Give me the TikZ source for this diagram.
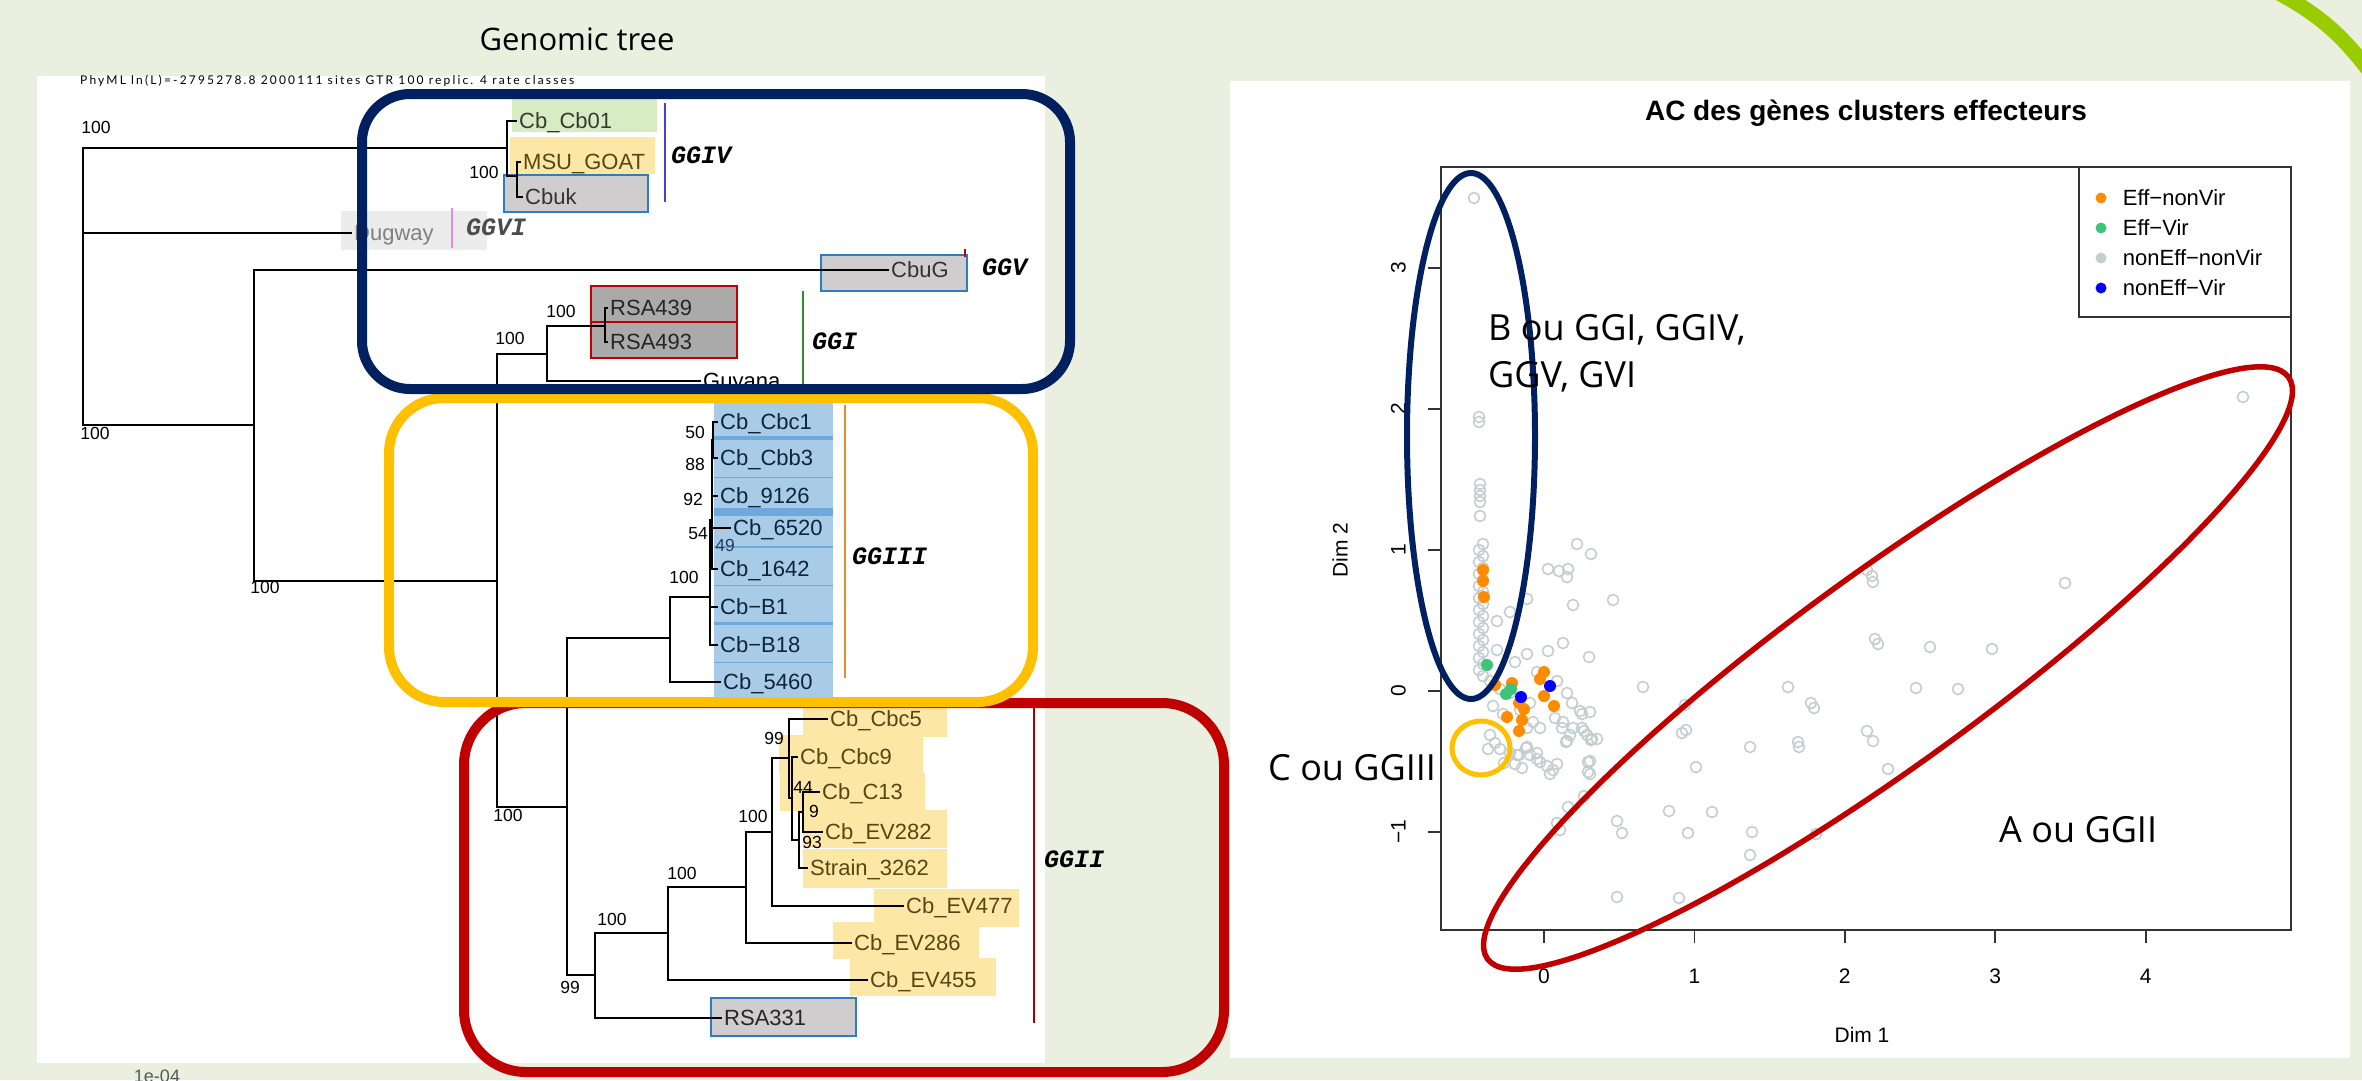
\documentclass[tikz,border=0pt]{standalone}
\usepackage{fontspec}
\newfontfamily\treefont{Liberation Sans}
\newfontfamily\notefont{Open Sans}
\newfontfamily\cladefont{Liberation Mono}
\newfontfamily\headfont[LetterSpace=18]{Lato}
\usetikzlibrary{positioning}

\definecolor{bgpage}{RGB}{234,239,223}
\definecolor{swoosh}{RGB}{153,204,0}
\definecolor{navybox}{RGB}{0,32,96}
\definecolor{goldbox}{RGB}{255,192,0}
\definecolor{redbox}{RGB}{192,0,0}
\definecolor{hlgreen}{RGB}{216,236,196}
\definecolor{hlyellow}{RGB}{253,231,166}
\definecolor{hlgray}{RGB}{207,205,206}
\definecolor{hldark}{RGB}{170,170,170}
\definecolor{hllight}{RGB}{236,236,236}
\definecolor{hlblue}{RGB}{168,204,232}
\definecolor{hlstripe}{RGB}{111,168,220}
\definecolor{edgeblue}{RGB}{46,125,192}
\definecolor{olivetext}{RGB}{88,70,18}
\definecolor{navytext}{RGB}{16,36,56}
\definecolor{ptgray}{RGB}{196,206,206}
\definecolor{ptorange}{RGB}{255,140,0}
\definecolor{ptgreen}{RGB}{60,197,122}
\definecolor{ptblue}{RGB}{0,0,255}
\definecolor{tagiv}{RGB}{75,60,220}
\definecolor{tagvi}{RGB}{225,140,225}
\definecolor{tagi}{RGB}{50,140,50}
\definecolor{tagiii}{RGB}{232,140,50}
\definecolor{tagii}{RGB}{165,0,0}

\begin{document}
\begin{tikzpicture}[
  x=1pt, y=-1pt,
  leaf/.style={anchor=west, inner sep=2pt, text height=15pt, text depth=0pt,
    font=\treefont\fontsize{22}{22}\selectfont},
  boot/.style={inner sep=0pt, text height=12pt, text depth=0pt,
    font=\treefont\fontsize{17.5}{17.5}\selectfont},
  clade/.style={anchor=west, inner sep=0pt, text height=14pt, text depth=0pt,
    font=\cladefont\bfseries\itshape\fontsize{25}{25}\selectfont},
  note/.style={anchor=west, inner sep=0pt, text height=26pt, text depth=0pt,
    font=\notefont\fontsize{36}{36}\selectfont},
  axlab/.style={inner sep=0pt, text height=15pt, text depth=0pt,
    font=\treefont\fontsize{21}{21}\selectfont},
  legtxt/.style={anchor=west, inner sep=0pt, text height=15pt, text depth=0pt,
    font=\treefont\fontsize{22}{22}\selectfont},
  dot/.style={circle, inner sep=0pt, minimum size=11pt},
  branch/.style={line width=2pt},
  tag/.style={line width=2pt},
  frame/.style={line width=10pt, rounded corners=48pt},
  boxed/.style={line width=2.5pt},
  open/.style={draw=ptgray, line width=1.6pt}
]
\useasboundingbox (0,0) rectangle (2362,1080);
\clip (0,0) rectangle (2362,1080);
\fill[bgpage] (0,0) rectangle (2362,1080);
\draw[swoosh, line width=15pt] (2277,-8) to[bend left=12] (2370,72);
\fill[white] (37,76) rectangle (1045,1063);
\fill[white] (1230,81) rectangle (2350,1058);

% titles
\node[inner sep=0pt, text height=22pt, text depth=0pt, font=\notefont\fontsize{31}{31}\selectfont] (title) at (577,39) {Genomic tree};
\node[anchor=west, inner sep=0pt, text height=8.5pt, text depth=0pt, font=\headfont\fontsize{12}{12}\selectfont] (phyml) at (80,80) {PhyML ln(L)=-2795278.8 2000111 sites GTR 100 replic. 4 rate classes};
\node[inner sep=0pt, text height=13pt, text depth=0pt, text=black!65, font=\treefont\fontsize{18}{18}\selectfont] (scale) at (157,1076) {1e-04};

% highlights
\fill[hlgreen] (512,99) rectangle (657,132);
\fill[hlyellow] (510,137) rectangle (655,174);
\filldraw[fill=hlgray, draw=edgeblue, boxed] (504,175) rectangle (648,212);
\fill[hllight] (341,211) rectangle (487,250);
\filldraw[fill=hlgray, draw=edgeblue, boxed] (821,255) rectangle (967,291);
\filldraw[fill=hldark, draw=redbox, boxed] (591,286) rectangle (737,322);
\filldraw[fill=hldark, draw=redbox, boxed] (591,322) rectangle (737,358);
\fill[hlblue] (714,400) rectangle (833,697);
\foreach \ya/\yb in {436/440, 476.5/477.5, 508/516, 546/548, 584.5/585.5, 622/625, 661.5/662.5}
  \fill[hlstripe] (714,\ya) rectangle (833,\yb);
\foreach \xa/\ya/\xb/\yb in {803/707/947/737, 779/735/923/773, 780/773/925/811, 803/810/947/848,
    803/849/947/888, 874/889/1019/927, 833/922/979/959, 850/958/996/996}
  \fill[hlyellow] (\xa,\ya) rectangle (\xb,\yb);
\filldraw[fill=hlgray, draw=edgeblue, boxed] (711,998) rectangle (856,1036);

% leaves
\node[leaf, text=hlgreen!25!black] (Cb01) at (517,121) {Cb\_Cb01};
\node[leaf, text=olivetext] (MSU) at (521,162) {MSU\_GOAT};
\node[leaf, text=black!80] (Cbuk) at (523,197) {Cbuk};
\node[leaf, text=black!50] (Dugway) at (352,233) {Dugway};
\node[leaf, text=black!80] (CbuG) at (889,270) {CbuG};
\node[leaf, text=black!85] (RSA439) at (608,308) {RSA439};
\node[leaf, text=black!85] (RSA493) at (608,342) {RSA493};
\node[leaf] (Guyana) at (701,381) {Guyana};
\node[leaf, text=navytext] (Cbc1) at (718,422) {Cb\_Cbc1};
\node[leaf, text=navytext] (Cbb3) at (718,458) {Cb\_Cbb3};
\node[leaf, text=navytext] (C9126) at (718,496) {Cb\_9126};
\node[leaf, text=navytext] (C6520) at (731,528) {Cb\_6520};
\node[leaf, text=navytext] (C1642) at (718,569) {Cb\_1642};
\node[leaf, text=navytext] (CbB1) at (718,607) {Cb−B1};
\node[leaf, text=navytext] (CbB18) at (718,645) {Cb−B18};
\node[leaf, text=navytext] (C5460) at (721,682) {Cb\_5460};
\node[leaf, text=olivetext] (Cbc5) at (828,719) {Cb\_Cbc5};
\node[leaf, text=olivetext] (Cbc9) at (798,757) {Cb\_Cbc9};
\node[leaf, text=olivetext] (C13) at (820,792) {Cb\_C13};
\node[leaf, text=olivetext] (EV282) at (823,832) {Cb\_EV282};
\node[leaf, text=olivetext] (Strain) at (808,868) {Strain\_3262};
\node[leaf, text=olivetext] (EV477) at (904,906) {Cb\_EV477};
\node[leaf, text=olivetext] (EV286) at (852,943) {Cb\_EV286};
\node[leaf, text=olivetext] (EV455) at (868,980) {Cb\_EV455};
\node[leaf, text=black!85] (RSA331) at (722,1018) {RSA331};

% internal nodes
\coordinate (root) at (83,286);
\coordinate (nIV) at (507,148);
\coordinate (nIVb) at (517,176);
\coordinate (nLow) at (254,425);
\coordinate (nMid) at (497,581);
\coordinate (nI) at (547,354);
\coordinate (nRSA) at (605,326);
\coordinate (nCore) at (567,807);
\coordinate (nIII) at (670,638);
\coordinate (nLad) at (710,597);
\coordinate (nLadb) at (712,520);
\coordinate (nLadc) at (713,440);
\coordinate (nII) at (595,975);
\coordinate (nIIa) at (668,933);
\coordinate (nIIb) at (746,887);
\coordinate (nIIc) at (772,832);
\coordinate (nIId) at (789,758);
\coordinate (nIIe) at (792,798);
\coordinate (nIIf) at (799,840);
\coordinate (nIIg) at (803,812);

% branches
\draw[branch] (root) |- (nIV);
\draw[branch] (root) |- (Dugway.west);
\draw[branch] (root) |- (nLow);
\draw[branch] (nIV) |- (Cb01.west);
\draw[branch] (nIV) |- (nIVb);
\draw[branch] (nIVb) |- (MSU.west);
\draw[branch] (nIVb) |- (Cbuk.west);
\draw[branch] (nLow) |- (CbuG.west);
\draw[branch] (nLow) |- (nMid);
\draw[branch] (nMid) |- (nI);
\draw[branch] (nMid) |- (nCore);
\draw[branch] (nI) |- (nRSA);
\draw[branch] (nI) |- (Guyana.west);
\draw[branch] (nRSA) |- (RSA439.west);
\draw[branch] (nRSA) |- (RSA493.west);
\draw[branch] (nCore) |- (nIII);
\draw[branch] (nCore) |- (nII);
\draw[branch] (nIII) |- (nLad);
\draw[branch] (nIII) |- (C5460.west);
\draw[branch] (nLad) |- (nLadb);
\draw[branch] (nLad) |- (CbB1.west);
\draw[branch] (nLad) |- (CbB18.west);
\draw[branch] (nLadb) |- (nLadc);
\draw[branch] (nLadb) |- (C9126.west);
\draw[branch] (nLadb) |- (C6520.west);
\draw[branch] (nLadb) |- (C1642.west);
\draw[branch] (nLadc) |- (Cbc1.west);
\draw[branch] (nLadc) |- (Cbb3.west);
\draw[branch] (nII) |- (nIIa);
\draw[branch] (nII) |- (RSA331.west);
\draw[branch] (nIIa) |- (nIIb);
\draw[branch] (nIIa) |- (EV455.west);
\draw[branch] (nIIb) |- (nIIc);
\draw[branch] (nIIb) |- (EV286.west);
\draw[branch] (nIIc) |- (nIId);
\draw[branch] (nIIc) |- (EV477.west);
\draw[branch] (nIId) |- (Cbc5.west);
\draw[branch] (nIId) |- (nIIe);
\draw[branch] (nIIe) |- (Cbc9.west);
\draw[branch] (nIIe) |- (nIIf);
\draw[branch] (nIIf) |- (nIIg);
\draw[branch] (nIIf) |- (Strain.west);
\draw[branch] (nIIg) |- (C13.west);
\draw[branch] (nIIg) |- (EV282.west);

% supports
\foreach \bx/\by/\bv [count=\i] in {96/127/100, 95/433/100, 265/587/100, 484/172/100, 510/338/100,
    561/311/100, 508/815/100, 684/577/100, 695/432/50, 695/464/88, 693/499/92, 698/533/54,
    774/738/99, 803/787/44, 814/811/9, 812/842/93, 753/816/100, 682/873/100, 612/919/100, 570/987/99}
  \node[boot] (bs\i) at (\bx,\by) {\bv};
\node[boot, text=navytext!80!hlstripe] (bs49) at (725,545) {49};

% clade tags
\draw[tag, tagiv] (665,103) -- (665,202);
\draw[tag, tagvi] (452,208) -- (452,248);
\draw[tag, redbox] (965,249) -- (965,257);
\draw[line width=1.5pt, tagi] (803,291) -- (803,387);
\draw[tag, tagiii] (845,405) -- (845,678);
\draw[tag, tagii] (1034,707) -- (1034,1023);
\node[clade] (GGIV) at (671,156) {GGIV};
\node[clade, text=black!70] (GGVI) at (466,228) {GGVI};
\node[clade] (GGV) at (982,268) {GGV};
\node[clade] (GGI) at (812,342) {GGI};
\node[clade] (GGIII) at (852,557) {GGIII};
\node[clade] (GGII) at (1044,860) {GGII};

% group frames
\draw[frame, redbox, rounded corners=62pt] (464,703) rectangle (1224,1072);
\draw[frame, goldbox, rounded corners=55pt] (389,398) rectangle (1033,702);
\draw[frame, navybox] (362,94) rectangle (1070,389);

% ---- CA plot ----
\node[inner sep=0pt, text height=20pt, text depth=0pt, font=\treefont\bfseries\fontsize{28}{28}\selectfont] (acTitle) at (1866,110) {AC des gènes clusters effecteurs};
\draw[line width=1.8pt, black!80] (1441,167) rectangle (2291,930);
\foreach \k in {0,...,4} {
  \draw[line width=1.8pt, black!80] ({1544+150.4*\k},930) -- ({1544+150.4*\k},943);
  \node[axlab] (xt\k) at ({1544+150.4*\k},976) {\k};
}
\foreach \k/\t in {-1/−1, 0/0, 1/1, 2/2, 3/3} {
  \draw[line width=1.8pt, black!80] (1428,{691-141*\k}) -- (1441,{691-141*\k});
  \node[axlab, rotate=90] (yt\k) at (1398,{691-141*\k}) {\t};
}
\node[axlab] (dim1) at (1862,1035) {Dim 1};
\node[axlab, rotate=90] (dim2) at (1340,550) {Dim 2};

% legend
\draw[line width=1.8pt, black!80] (2079,167) rectangle (2291,317);
\node[dot, fill=ptorange] (dOrange) at (2101,198) {};
\node[dot, fill=ptgreen] (dGreen) at (2101,228) {};
\node[dot, fill=ptgray] (dGray) at (2101,258) {};
\node[dot, fill=ptblue] (dBlue) at (2101,288) {};
\node[legtxt, right=16pt of dOrange] (lOrange) {Eff−nonVir};
\node[legtxt, right=16pt of dGreen] (lGreen) {Eff−Vir};
\node[legtxt, right=16pt of dGray] (lGray) {nonEff−nonVir};
\node[legtxt, right=16pt of dBlue] (lBlue) {nonEff−Vir};

% points
\foreach \py [count=\i] in {544,550,...,680}
  \draw[open] ({1479+4*mod(\i,2)},\py) circle[radius=5.5];
\foreach \px/\py in {1474/198, 1479/417, 1479/422, 1480/484, 1480/490, 1480/496, 1480/502, 1480/516,
    1577/544, 1591/554, 1548/569, 1559/571, 1568/569, 1567/577, 1613/600, 1573/605, 1527/599,
    1510/612, 1497/621, 1563/643, 1548/651, 1527/654, 1515/662, 1497/650, 1589/657, 1643/687,
    1867/570, 1872/576, 1873/582, 2065/583, 1875/639, 1878/644, 1930/647, 1992/649, 1788/687,
    1916/688, 1958/689, 1811/703, 1814/708, 1685/705, 1682/733, 1686/730, 1867/731, 1873/741,
    1798/742, 1799/747, 1750/747, 1696/767, 1888/769, 1590/761, 1590/774, 1584/796, 1568/807,
    1557/823, 1560/830, 1669/811, 1712/812, 1617/821, 1622/833, 1688/833, 1752/832, 1816/834,
    1750/855, 1617/897, 1679/898, 2243/397,
    1490/681, 1500/689, 1510/693, 1493/706, 1503/714, 1520/710, 1530/703, 1527/728, 1540/728,
    1537/672, 1557/681, 1567/693, 1572/703, 1582/714, 1590/712, 1563/722, 1573/728, 1582/728,
    1587/735, 1592/739, 1597/739, 1567/741, 1490/735, 1495/743, 1500/749, 1488/749, 1517/755,
    1527/747, 1530/755, 1537/753, 1540/762, 1547/766, 1553/770, 1550/774, 1557/764, 1588/762,
    1588/772, 1515/764, 1522/768, 1510/753, 1533/722, 1555/718, 1562/728, 1580/711, 1570/735,
    1584/731, 1591/740, 1566/742, 1526/748, 1537/759, 1504/763, 1519/755}
  \draw[open] (\px,\py) circle[radius=5.5];
\foreach \px/\py in {1483/570, 1483/581, 1484/597, 1495/685, 1512/683, 1519/703, 1524/709,
    1507/717, 1522/720, 1519/731, 1540/679, 1544/672, 1544/696, 1554/706}
  \fill[ptorange] (\px,\py) circle[radius=6];
\foreach \px/\py in {1487/665, 1506/694, 1511/689}
  \fill[ptgreen] (\px,\py) circle[radius=6];
\foreach \px/\py in {1521/697, 1550/686}
  \fill[ptblue] (\px,\py) circle[radius=6];

% groups on the plot
\draw[navybox, line width=6pt] (1471,436) ellipse[x radius=64, y radius=263];
\draw[goldbox, line width=5pt] (1481,748) ellipse[x radius=29, y radius=27];
\draw[redbox, line width=5.5pt, rotate around={36:(1888,668)}] (1888,668) ellipse[x radius=495, y radius=96];
\node[note] (groupB) at (1488,327) {B ou GGI, GGIV,};
\node[note] (groupB2) at (1488,374) {GGV, GVI};
\node[note] (groupC) at (1268,767) {C ou GGIII};
\node[note] (groupA) at (1999,829) {A ou GGII};
\end{tikzpicture}
\end{document}
